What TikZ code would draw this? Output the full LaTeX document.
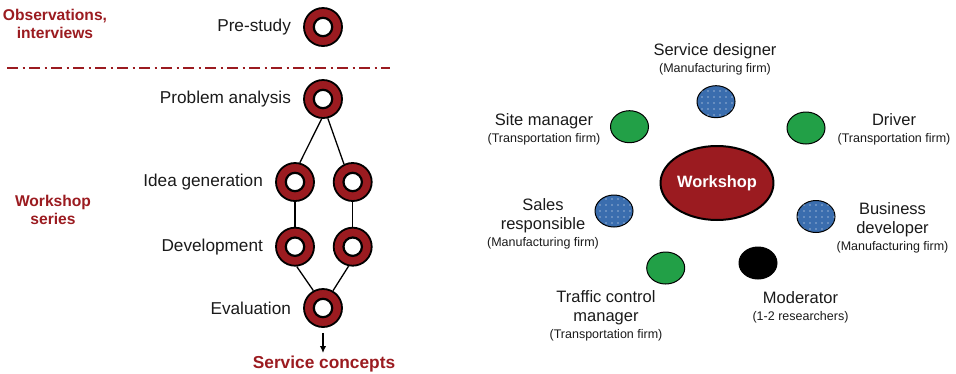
\documentclass[tikz,border=0pt]{standalone}
\usepackage{fontspec}
\setmainfont{Liberation Sans}
\usetikzlibrary{shapes.geometric,arrows.meta,patterns.meta}
\definecolor{wsred}{HTML}{9B1B20}
\definecolor{wsgreen}{HTML}{22A047}
\definecolor{wsblue}{HTML}{3A6DAE}
\definecolor{txt}{HTML}{1A1A1A}
\newcommand\rolenote{\fontsize{12.5}{14}\selectfont}

\begin{document}
\begin{tikzpicture}[x=1pt,y=-1pt,
  phase/.style={circle,fill=wsred,draw=black,line width=1.8pt,minimum size=38pt,inner sep=0pt,
    path picture={\filldraw[fill=white,draw=black,line width=2.2pt]
      (path picture bounding box.center) circle (9.2pt);}},
  phaselabel/.style={anchor=east,inner sep=0pt,text=txt,font=\fontsize{17.2}{20}\selectfont},
  head/.style={anchor=north,inner sep=0pt,align=center,text=wsred,
    font=\bfseries\fontsize{15.6}{18}\selectfont},
  link/.style={line width=1.3pt},
  person/.style={ellipse,draw=black,line width=1pt,minimum width=38pt,minimum height=32pt,inner sep=0pt},
  transport/.style={person,fill=wsgreen},
  manufacturer/.style={person,fill=wsblue,
    postaction={pattern={Dots[distance=6pt,radius=0.7pt]},pattern color=white}},
  researcher/.style={person,fill=black},
  role/.style={anchor=north,inner sep=0pt,align=center,text=txt,font=\fontsize{16.5}{19}\selectfont}
]
\useasboundingbox (0,0) rectangle (956,373);

% ---------- process on the left ----------
\node[head] (obs) at (55,9) {Observations,\\interviews};
\node[head] (wss) at (53,195) {Workshop\\series};

\coordinate (dl) at (7,68);
\coordinate (dr) at (390,68);
\draw[wsred,line width=2pt,dash pattern=on 11pt off 4.5pt on 2pt off 4.5pt] (dl) -- (dr);

\node[phase] (ps) at (323,27) {};
\node[phase] (pa) at (323,99) {};
\node[phase] (ig1) at (295,182) {};
\node[phase] (ig2) at (352.7,182) {};
\node[phase] (dv1) at (295,246.7) {};
\node[phase] (dv2) at (352.7,246.7) {};
\node[phase] (ev) at (323,308) {};

\node[phaselabel] (psl) at ([xshift=-12pt]ps.west) {Pre-study};
\node[phaselabel] (pal) at ([xshift=-12pt]pa.west) {Problem analysis};
\node[phaselabel] (igl) at ([xshift=-12pt]ig1.west) {Idea generation};
\node[phaselabel] (dvl) at ([xshift=-12pt]dv1.west) {Development};
\node[phaselabel] (evl) at ([xshift=-12pt]ev.west) {Evaluation};

\draw[link] (pa.266) -- (ig1.76);
\draw[link] (pa.284) -- (ig2.116);
\draw[link] (ig1.south) -- (dv1.north);
\draw[link] (ig2.south) -- (dv2.north);
\draw[link] (dv1.275) -- (ev.119);
\draw[link] (dv2.258) -- (ev.60);

\node[anchor=north,inner sep=0pt,text=wsred,font=\bfseries\fontsize{17.3}{20}\selectfont]
  (sc) at (324,356) {Service concepts};
\draw[line width=1.5pt,-{Latex[length=7pt,width=6.5pt]},shorten <=5pt,shorten >=3pt]
  (ev.south) -- (ev.south |- sc.north);

% ---------- workshop participants on the right ----------
\node[ellipse,fill=wsred,draw=black,line width=2pt,minimum width=108pt,minimum height=74pt,
  inner sep=0pt,text=white,font=\bfseries\fontsize{16.4}{19}\selectfont] (ws) at (717,183) {Workshop};

\node[manufacturer] (sd) at (716,101.7) {};
\node[transport] (sm) at (629.5,126.7) {};
\node[transport] (dr) at (806,128) {};
\node[manufacturer] (sr) at (614,211) {};
\node[manufacturer] (bd) at (816,216.5) {};
\node[transport] (tc) at (665.7,268) {};
\node[researcher] (md) at (758,263) {};

\node[role] (sdl) at (715,43) {Service designer\\[-2pt]{\rolenote (Manufacturing firm)}};
\node[role] (sml) at (544,113) {Site manager\\[-2pt]{\rolenote (Transportation firm)}};
\node[role] (drl) at (894,113) {Driver\\[-2pt]{\rolenote (Transportation firm)}};
\node[role] (srl) at (543,198) {Sales\\responsible\\[-1.5pt]{\rolenote (Manufacturing firm)}};
\node[role] (bdl) at (892.5,202) {Business\\developer\\[-1.5pt]{\rolenote (Manufacturing firm)}};
\node[role] (tcl) at (606,290) {Traffic control\\manager\\[-1.5pt]{\rolenote (Transportation firm)}};
\node[role] (mdl) at (800.5,291) {Moderator\\[-1.5pt]{\rolenote (1-2 researchers)}};
\end{tikzpicture}
\end{document}
